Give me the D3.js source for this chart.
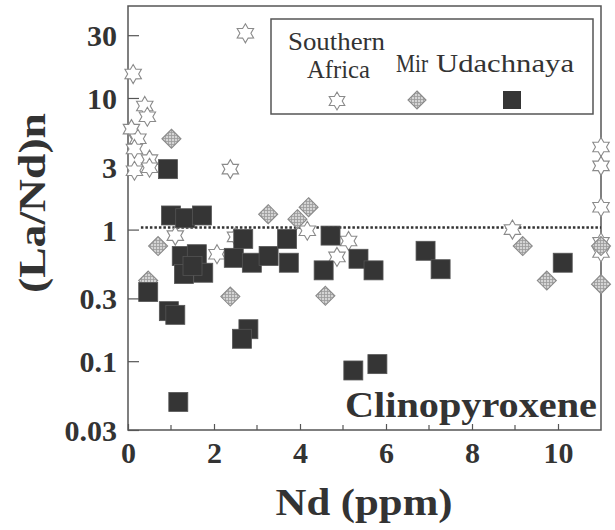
<!DOCTYPE html>
<html>
<head>
<meta charset="utf-8">
<script src="https://cdn.jsdelivr.net/npm/d3@7"></script>
<style>
  html, body { margin: 0; padding: 0; background: #fff; }
  svg { display: block; }
  svg text { font-family: "Liberation Serif", "Times New Roman", Times, serif; }
</style>
</head>
<body>
<svg id="chart" width="615" height="530"></svg>
<script>
// ---- data ----
const southernAfricaNd = [2.73, 0.12, 0.39, 0.45, 0.08, 0.23, 0.15, 0.5, 0.15, 0.5, 2.38, 1.1, 2.07, 2.5, 4.17, 5.13, 4.86, 8.94, 11, 11, 11, 11, 11];
const southernAfricaLaNd = [31, 15.2, 8.7, 7.2, 5.8, 4.9, 4.1, 3.4, 2.8, 2.95, 2.88, 0.9, 0.65, 0.88, 0.98, 0.82, 0.62, 1.0, 4.24, 3.05, 1.48, 0.80, 0.67];
const mirNd = [1.01, 0.70, 0.47, 2.38, 3.26, 3.94, 4.2, 4.59, 9.18, 9.74, 11, 11];
const mirLaNd = [4.9, 0.75, 0.41, 0.31, 1.31, 1.2, 1.48, 0.314, 0.75, 0.41, 0.75, 0.385];
const udachnayaNd = [0.93, 1.0, 1.33, 1.72, 1.25, 1.6, 1.3, 1.75, 1.5, 0.47, 0.95, 1.1, 1.17, 2.68, 2.46, 2.88, 3.27, 3.70, 3.74, 2.8, 2.65, 4.71, 5.36, 4.55, 5.71, 6.92, 7.27, 5.24, 5.8, 10.11];
const udachnayaLaNd = [2.88, 1.28, 1.22, 1.28, 0.63, 0.65, 0.46, 0.47, 0.53, 0.335, 0.24, 0.225, 0.049, 0.85, 0.61, 0.56, 0.63, 0.85, 0.56, 0.175, 0.148, 0.90, 0.60, 0.49, 0.49, 0.69, 0.50, 0.085, 0.095, 0.56];
const yTickValues = [30, 10, 3, 1, 0.3, 0.1, 0.03];
const yTickLabels = ["30", "10", "3", "1", "0.3", "0.1", "0.03"];
const xTickValues = [0, 2, 4, 6, 8, 10];
const xMinorTicks = [1, 3, 5, 7, 9];
const referenceLine = [0.3, 11]; // Nd range of the (La/Nd)n = 1 line

// ---- layout ----
const svg = d3.select("#chart");
const L = 128, R = 601, T = 6, B = 430;
const x = d3.scaleLinear().domain([0, 11]).range([L, R]);
const y = d3.scaleLog().domain([0.03, 50]).range([B, T]);
const ink = "#333";
const frame = "#555";

// pattern for Mir diamonds
const defs = svg.append("defs");
const pat = defs.append("pattern").attr("id", "hatch").attr("patternUnits", "userSpaceOnUse")
  .attr("width", 3).attr("height", 3);
pat.append("rect").attr("width", 3).attr("height", 3).attr("fill", "#d4d4d4");
pat.append("path").attr("d", "M0,0.5H3M0.5,0V3").attr("stroke", "#9a9a9a").attr("stroke-width", 0.8);

// hexagram path
function hexagram(cx, cy, R0) {
  const r0 = R0 * 0.58;
  const pts = [];
  for (let i = 0; i < 12; i++) {
    const a = -Math.PI / 2 + i * Math.PI / 6;
    const rr = i % 2 === 0 ? R0 : r0;
    pts.push([cx + rr * Math.cos(a), cy + rr * Math.sin(a)]);
  }
  return "M" + pts.map(p => p.join(",")).join("L") + "Z";
}
function diamond(cx, cy, h) {
  return `M${cx},${cy - h}L${cx + h},${cy}L${cx},${cy + h}L${cx - h},${cy}Z`;
}

// frame
svg.append("rect").attr("x", L).attr("y", T).attr("width", R - L).attr("height", B - T)
  .attr("fill", "none").attr("stroke", frame).attr("stroke-width", 1.5);

// axes ticks (inward)
const xAxis = d3.axisBottom(x).tickValues(xTickValues).tickSize(-6).tickFormat(d => d);
const gx = svg.append("g").attr("transform", `translate(0,${B})`).call(xAxis);
gx.select(".domain").remove();
gx.selectAll("line").attr("stroke", frame).attr("stroke-width", 1.2);
gx.selectAll("text").attr("font-family", null).attr("font-weight", "bold")
  .attr("font-size", 30).attr("fill", ink).attr("y", 12).attr("dy", "0.71em");
gx.attr("font-family", null);
svg.append("g").selectAll("line").data(xMinorTicks).join("line")
  .attr("x1", d => x(d)).attr("x2", d => x(d)).attr("y1", B).attr("y2", B - 5)
  .attr("stroke", frame).attr("stroke-width", 1.2);

const yAxis = d3.axisLeft(y).tickValues(yTickValues).tickSize(-11)
  .tickFormat((d, i) => yTickLabels[i]);
const gy = svg.append("g").attr("transform", `translate(${L},0)`).call(yAxis);
gy.attr("font-family", null);
gy.select(".domain").remove();
gy.selectAll("line").attr("stroke", frame).attr("stroke-width", 1.2);
gy.selectAll("text").attr("font-weight", "bold")
  .attr("font-size", 30).attr("fill", ink).attr("x", -11).attr("dy", "0.35em");

// reference line
svg.append("line").attr("x1", x(referenceLine[0])).attr("x2", x(referenceLine[1]))
  .attr("y1", y(1) - 2).attr("y2", y(1) - 2)
  .attr("stroke", ink).attr("stroke-width", 2.5).attr("stroke-dasharray", "2.5,2");

// data marks
const sa = southernAfricaNd.map((d, i) => [d, southernAfricaLaNd[i]]);
const mir = mirNd.map((d, i) => [d, mirLaNd[i]]);
const ud = udachnayaNd.map((d, i) => [d, udachnayaLaNd[i]]);

svg.append("g").selectAll("path").data(sa).join("path")
  .attr("d", d => hexagram(x(d[0]), y(d[1]), 9.5))
  .attr("fill", "#fff").attr("stroke", "#8a8a8a").attr("stroke-width", 1.1);
svg.append("g").selectAll("path").data(mir).join("path")
  .attr("d", d => diamond(x(d[0]), y(d[1]), 9.5))
  .attr("fill", "url(#hatch)").attr("stroke", "#8a8a8a").attr("stroke-width", 1.1);
svg.append("g").selectAll("rect").data(ud).join("rect")
  .attr("x", d => x(d[0]) - 9.5).attr("y", d => y(d[1]) - 9.5)
  .attr("width", 19).attr("height", 19)
  .attr("fill", "#353535").attr("stroke", "#555").attr("stroke-width", 0.8);

// legend
svg.append("rect").attr("x", 271).attr("y", 19).attr("width", 322).attr("height", 95)
  .attr("fill", "#fff").attr("stroke", frame).attr("stroke-width", 1.5);
const leg = svg.append("g").attr("font-size", 26).attr("fill", ink);
leg.append("text").attr("x", 288).attr("y", 50).attr("textLength", 97)
  .attr("lengthAdjust", "spacingAndGlyphs").text("Southern");
leg.append("text").attr("x", 307).attr("y", 78).attr("textLength", 63)
  .attr("lengthAdjust", "spacingAndGlyphs").text("Africa");
leg.append("text").attr("x", 396).attr("y", 72).attr("font-size", 25).attr("textLength", 32)
  .attr("lengthAdjust", "spacingAndGlyphs").text("Mir");
leg.append("text").attr("x", 436).attr("y", 72).attr("textLength", 138)
  .attr("lengthAdjust", "spacingAndGlyphs").text("Udachnaya");
svg.append("path").attr("d", hexagram(337, 101, 9))
  .attr("fill", "#fff").attr("stroke", "#8a8a8a").attr("stroke-width", 1.1);
svg.append("path").attr("d", diamond(417, 100, 9))
  .attr("fill", "url(#hatch)").attr("stroke", "#8a8a8a").attr("stroke-width", 1.1);
svg.append("rect").attr("x", 503).attr("y", 91).attr("width", 18).attr("height", 18)
  .attr("fill", "#353535");

// annotation
svg.append("text").attr("x", 345).attr("y", 417)
  .attr("font-weight", "bold").attr("font-size", 36).attr("fill", ink)
  .attr("textLength", 252).attr("lengthAdjust", "spacingAndGlyphs").text("Clinopyroxene");

// axis titles
svg.append("text").attr("x", 364).attr("y", 515).attr("text-anchor", "middle")
  .attr("font-weight", "bold").attr("font-size", 37).attr("fill", ink)
  .attr("textLength", 177).attr("lengthAdjust", "spacingAndGlyphs").text("Nd (ppm)");
svg.append("text").attr("transform", "translate(45,203) rotate(-90)").attr("text-anchor", "middle")
  .attr("font-weight", "bold").attr("font-size", 37).attr("fill", ink)
  .attr("textLength", 180).attr("lengthAdjust", "spacingAndGlyphs").text("(La/Nd)n");
</script>
</body>
</html>
